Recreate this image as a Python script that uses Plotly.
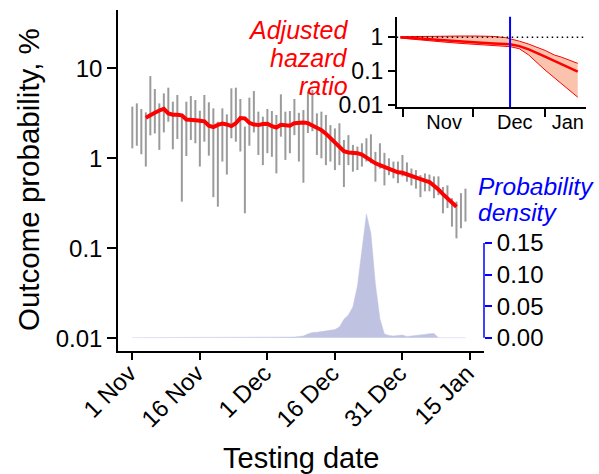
import plotly.graph_objects as go
import pandas as pd

W, H = 599, 474
FONT = "Liberation Sans, Arial, sans-serif"

# ---------------- data ----------------
bar_start = "2020-11-01"
bar_low = [1.29, 1.38, 1.11, 0.81, 1.8, 1.89, 1.24, 1.94, 2.55, 1.26,
           1.64, 0.33, 1.06, 1.6, 1.47, 0.81, 1.53, 1.07, 0.37, 0.29,
           0.92, 0.66, 1.67, 1.53, 1.19, 0.245, 1.38, 1.94, 1.09, 0.84,
           1.14, 1.04, 0.68, 1.74, 0.96, 1.14, 1.81, 0.92, 0.535, 1.91,
           2.0, 1.09, 1.0, 0.84, 0.92, 0.74, 0.84, 0.48, 0.84, 0.71,
           0.74, 0.81, 0.92, 0.88, 0.55, 0.77, 0.50, 0.65, 0.60, 0.53,
           0.63, 0.55, 0.50, 0.46, 0.37, 0.43, 0.43, 0.36, 0.39, 0.245,
           0.28, 0.174, 0.129, 0.167, 0.198]
bar_high = [3.75, 4.08, 3.53, 3.24, 8.2, 5.89, 4.08, 5.27, 6.09, 4.26,
            5.05, 3.08, 4.26, 4.92, 4.44, 3.38, 5.05, 4.19, 3.59, 2.55,
            3.59, 3.08, 5.99, 6.09, 4.56, 2.25, 4.72, 5.59, 3.30, 2.90,
            3.53, 3.35, 3.03, 5.14, 3.30, 3.35, 4.56, 3.2, 3.44, 5.5,
            5.74, 3.16, 3.3, 3.03, 2.34, 2.15, 2.45, 1.6, 1.81, 1.41,
            1.35, 1.47, 1.67, 1.85, 1.18, 1.47, 1.15, 1.0, 0.92, 0.92,
            1.09, 0.90, 0.77, 0.74, 0.65, 0.68, 0.66, 0.63, 0.63, 0.48,
            0.50, 0.36, 0.33, 0.41, 0.46]

line_start = "2020-11-04"
line_vals = [2.83, 3.05, 3.2, 3.4, 3.55, 3.15, 3.05, 3.05, 3.0, 2.7,
             2.7, 2.65, 2.62, 2.58, 2.3, 2.22, 2.35, 2.43, 2.38, 2.28,
             2.45, 2.8, 2.78, 2.48, 2.37, 2.34, 2.40, 2.42, 2.28, 2.2,
             2.36, 2.32, 2.3, 2.46, 2.5, 2.5, 2.46, 2.34, 2.2, 2.06,
             1.88, 1.68, 1.5, 1.33, 1.2, 1.16, 1.15, 1.14, 1.1, 1.02,
             0.94, 0.88, 0.84, 0.80, 0.76, 0.73, 0.70, 0.69, 0.66, 0.635,
             0.61, 0.59, 0.565, 0.545, 0.50, 0.45, 0.40, 0.36, 0.32, 0.29]

dens_start = "2020-11-01"
dens_vals = [0.0] * 33 + [
    0.0002, 0.0004, 0.0006, 0.001, 0.0018, 0.0028, 0.006, 0.0082, 0.0085, 0.0095,
    0.0105, 0.0115, 0.0128, 0.017, 0.029, 0.036, 0.049, 0.082, 0.14, 0.196,
    0.165, 0.085, 0.030, 0.006, 0.0035, 0.0028, 0.0035, 0.0042, 0.002, 0.0025,
    0.0032, 0.0042, 0.0052, 0.0062, 0.0068, 0.0] + [0.0] * 6

x_tick_dates = ["2020-11-01", "2020-11-16", "2020-12-01", "2020-12-16", "2020-12-31", "2021-01-15"]
x_tick_text = ["1 Nov", "16 Nov", "1 Dec", "16 Dec", "31 Dec", "15 Jan"]
y_tick_vals = [0.01, 0.1, 1, 10]
y_tick_text = ["0.01", "0.1", "1", "10"]
dens_tick_vals = [0.0, 0.05, 0.10, 0.15]
dens_tick_text = ["0.00", "0.05", "0.10", "0.15"]

inset_dates = ["2020-10-31", "2020-11-12", "2020-11-19", "2020-11-26", "2020-12-03",
               "2020-12-10", "2020-12-15", "2020-12-17", "2020-12-21", "2020-12-25",
               "2021-01-01", "2021-01-05", "2021-01-08", "2021-01-15"]
inset_mid = [1.0, 0.87, 0.80, 0.74, 0.70, 0.66, 0.63, 0.62, 0.55, 0.44, 0.27, 0.204, 0.165, 0.097]
inset_low = [0.95, 0.78, 0.72, 0.66, 0.62, 0.58, 0.54, 0.53, 0.46, 0.30, 0.108, 0.064, 0.042, 0.017]
inset_high = [1.04, 1.08, 1.09, 1.09, 1.09, 1.06, 0.98, 0.91, 0.77, 0.63, 0.41, 0.30, 0.26, 0.17]
inset_ref = 1.0
inset_marker_date = "2020-12-17"
inset_label_dates = ["2020-11-18 18:00", "2020-12-19 00:00", "2021-01-10 18:00"]
inset_label_text = ["Nov", "Dec", "Jan"]
inset_boundary_dates = ["2020-11-01", "2020-12-01", "2021-01-01"]
inset_y_ticks = [0.01, 0.1, 1]
inset_y_text = ["0.01", "0.1", "1"]

main_x_range = ["2020-10-28 19:40", "2021-01-18 02:50"]
inset_x_range = ["2020-10-29 10:00", "2021-01-18 10:00"]

# ---------------- helpers ----------------
def fx(px):
    return px / W


def fy(py):
    return 1 - py / H


bar_dates = pd.date_range(bar_start, periods=len(bar_low), freq="D")
line_dates = pd.date_range(line_start, periods=len(line_vals), freq="D")
dens_dates = pd.date_range(dens_start, periods=len(dens_vals), freq="D")

bx, by = [], []
for d, lo, hi in zip(bar_dates, bar_low, bar_high):
    bx += [d, d, None]
    by += [lo, hi, None]

fig = go.Figure()

# density (secondary axis)
fig.add_trace(go.Scatter(x=dens_dates, y=dens_vals, mode="lines", fill="tozeroy",
                         fillcolor="rgb(191,195,225)",
                         line=dict(color="rgba(191,195,225,0.45)", width=1),
                         xaxis="x", yaxis="y2", hoverinfo="skip", showlegend=False))
# gray intervals
fig.add_trace(go.Scatter(x=bx, y=by, mode="lines", line=dict(color="#9b9b9b", width=2),
                         xaxis="x", yaxis="y", showlegend=False, connectgaps=False))
# red line
fig.add_trace(go.Scatter(x=line_dates, y=line_vals, mode="lines",
                         line=dict(color="#ff0000", width=4),
                         xaxis="x", yaxis="y", showlegend=False))

# inset
fig.add_trace(go.Scatter(x=inset_dates, y=inset_low, mode="lines",
                         line=dict(color="#ff0000", width=1), xaxis="x2", yaxis="y3", showlegend=False))
fig.add_trace(go.Scatter(x=inset_dates, y=inset_high, mode="lines", fill="tonexty",
                         fillcolor="rgba(248,188,165,0.9)",
                         line=dict(color="#ff0000", width=1), xaxis="x2", yaxis="y3", showlegend=False))
fig.add_trace(go.Scatter(x=inset_x_range, y=[inset_ref, inset_ref], mode="lines",
                         line=dict(color="black", width=1.5, dash="1.5px,3.5px"),
                         xaxis="x2", yaxis="y3", showlegend=False))
fig.add_trace(go.Scatter(x=inset_dates, y=inset_mid, mode="lines",
                         line=dict(color="#ff0000", width=2.5), xaxis="x2", yaxis="y3", showlegend=False))

axis_common = dict(showgrid=False, zeroline=False, automargin=False,
                   linecolor="black", linewidth=1.5, tickcolor="black", tickwidth=1.5)

fig.update_layout(
    width=W, height=H,
    margin=dict(l=0, r=0, t=0, b=0),
    template="none",
    paper_bgcolor="white", plot_bgcolor="white",
    font=dict(family=FONT, color="black", size=24),
    showlegend=False,
    xaxis=dict(domain=[fx(118), fx(484)], type="date", range=main_x_range, anchor="y",
               tickmode="array", tickvals=x_tick_dates, ticktext=x_tick_text,
               tickangle=-45, ticks="outside", ticklen=7, showline=True,
               ticklabelstandoff=-10, ticklabelshift=-3,
               tickfont=dict(size=24), **axis_common),
    yaxis=dict(domain=[fy(351), fy(10)], type="log", range=[-2.141, 1.648], anchor="x",
               tickmode="array", tickvals=y_tick_vals, ticktext=y_tick_text,
               ticks="outside", ticklen=9, showline=True,
               tickfont=dict(size=24), **axis_common),
    yaxis2=dict(overlaying="y", side="right", anchor="x", range=[-0.0211, 0.519],
                tickmode="array", tickvals=dens_tick_vals, ticktext=dens_tick_text,
                ticks="outside", ticklen=7, tickwidth=1.5, tickcolor="blue",
                showline=False, showgrid=False, zeroline=False, automargin=False,
                tickfont=dict(size=24, color="black")),
    xaxis2=dict(domain=[fx(396.7), fx(585.7)], type="date", range=inset_x_range, anchor="y3",
                tickmode="array", tickvals=inset_label_dates, ticktext=inset_label_text,
                ticks="outside", ticklen=1, showline=True, ticklabelstandoff=-5,
                showgrid=False, zeroline=False, automargin=False,
                linecolor="black", linewidth=1.5, tickcolor="rgba(0,0,0,0)",
                minor=dict(tickmode="array", tickvals=inset_boundary_dates, ticks="outside",
                           ticklen=8, tickwidth=1.5, tickcolor="black", showgrid=False),
                tickfont=dict(size=20)),
    yaxis3=dict(domain=[fy(107.3), fy(16.7)], type="log", range=[-2.068, 0.609], anchor="x2",
                tickmode="array", tickvals=inset_y_ticks, ticktext=inset_y_text,
                ticks="outside", ticklen=7, showline=True,
                tickfont=dict(size=23), **axis_common),
)

fig.add_shape(type="line", xref="x domain", x0=1, x1=1, yref="y2",
              y0=dens_tick_vals[0], y1=dens_tick_vals[-1],
              line=dict(color="blue", width=1.5), layer="above")
fig.add_shape(type="line", xref="x2", x0=inset_marker_date, x1=inset_marker_date,
              yref="y3 domain", y0=0, y1=1, line=dict(color="blue", width=2), layer="above")

anns = [
    dict(text="<i>Adjusted</i>", x=fx(350), y=fy(30), xanchor="right", font=dict(color="red", size=25)),
    dict(text="<i>hazard</i>", x=fx(350), y=fy(58), xanchor="right", font=dict(color="red", size=25)),
    dict(text="<i>ratio</i>", x=fx(350), y=fy(86), xanchor="right", font=dict(color="red", size=25)),
    dict(text="<i>Probability</i>", x=fx(476), y=fy(187), xanchor="left", font=dict(color="blue", size=24.5)),
    dict(text="<i>density</i>", x=fx(476), y=fy(213), xanchor="left", font=dict(color="blue", size=24.5)),
    dict(text="Testing date", x=fx(301), y=fy(458), xanchor="center", font=dict(color="black", size=29)),
    dict(text="Outcome probability, %", x=fx(28), y=fy(180), xanchor="center", textangle=-90,
         font=dict(color="black", size=29.5)),
]
for a in anns:
    a.update(xref="paper", yref="paper", yanchor="middle", showarrow=False)
    fig.add_annotation(**a)

fig.write_html("out.html")
